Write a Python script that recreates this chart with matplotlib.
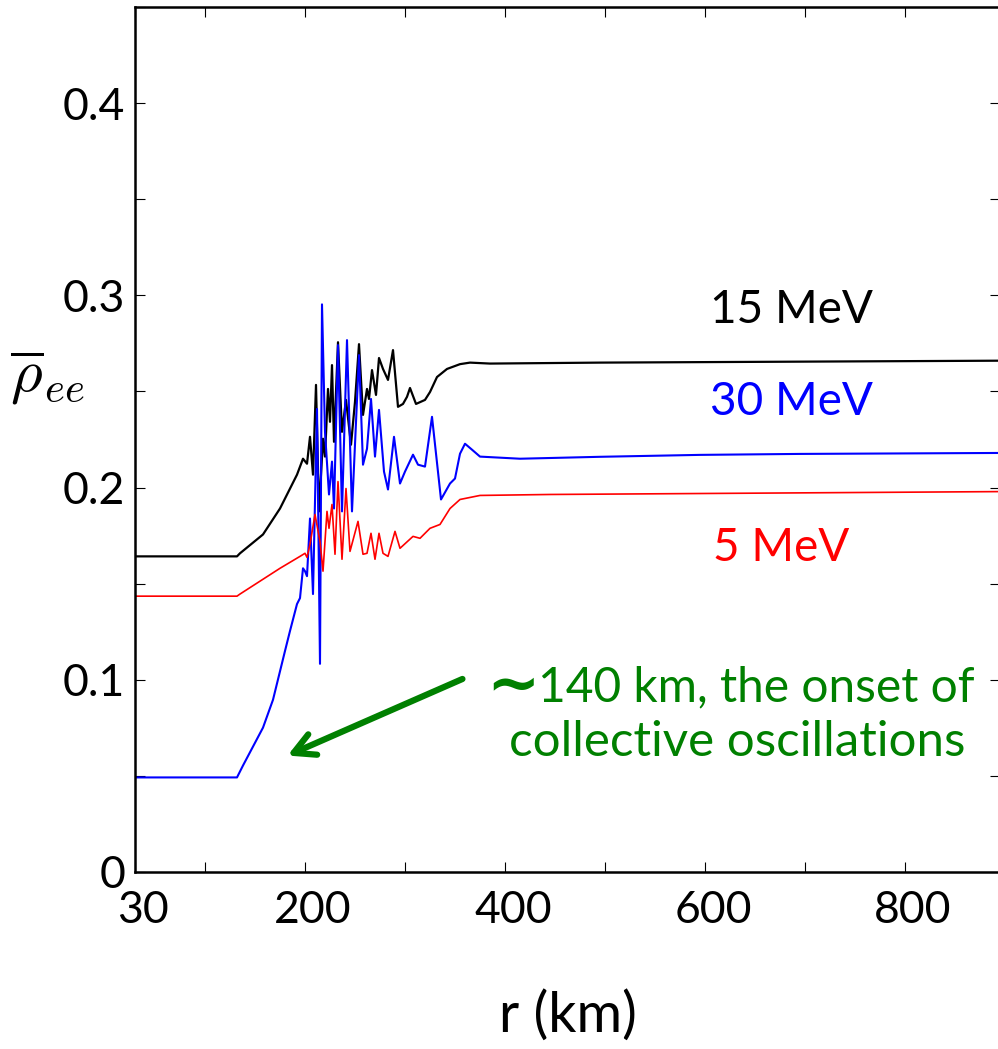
import numpy as np
import matplotlib
matplotlib.use('Agg')
import matplotlib.pyplot as plt
from matplotlib.ticker import MultipleLocator, FixedLocator
import matplotlib.transforms as mtransforms

plt.rcParams['font.family'] = ['Lato', 'DejaVu Sans']
plt.rcParams['mathtext.fontset'] = 'cm'

# 15 MeV (black)
r_15 = [30, 132, 135, 158, 175, 192, 198, 202, 205, 208, 211, 214, 218, 220, 223, 225,
        227, 229, 233, 237, 241, 246, 250, 254, 258, 262, 264, 267, 271, 274, 278, 283,
        288, 293, 298, 302, 305, 311, 320, 325, 332, 342, 355, 365, 385, 495, 695, 895]
rho_15 = [0.1642, 0.1642, 0.1658, 0.1756, 0.1891, 0.2067, 0.2150, 0.2124, 0.2264, 0.2067,
          0.2534, 0.1876, 0.2254, 0.2161, 0.2513, 0.2342, 0.2637, 0.2238, 0.2756, 0.2290,
          0.2456, 0.2223, 0.2446, 0.2746, 0.2378, 0.2513, 0.2461, 0.2611, 0.2482, 0.2674,
          0.2617, 0.2560, 0.2715, 0.2420, 0.2435, 0.2472, 0.2518, 0.2435, 0.2456, 0.2497,
          0.2575, 0.2617, 0.2642, 0.2650, 0.2645, 0.2650, 0.2655, 0.2660]

# 30 MeV (blue)
r_30 = [30, 132, 138, 158, 168, 180, 185, 192, 195, 198, 200, 202, 205, 208, 212, 215,
        217, 220, 224, 227, 229, 233, 237, 242, 247, 254, 258, 262, 266, 270, 274, 279,
        283, 289, 295, 300, 308, 313, 320, 327, 336, 345, 350, 355, 360, 367, 375, 415,
        495, 595, 695, 895]
rho_30 = [0.0492, 0.0492, 0.0554, 0.0751, 0.0896, 0.1150, 0.1254, 0.1394, 0.1425, 0.1580,
          0.1565, 0.1539, 0.1839, 0.1446, 0.2409, 0.1083, 0.2953, 0.2290, 0.1964, 0.2135,
          0.1891, 0.2741, 0.1876, 0.2767, 0.1876, 0.2689, 0.2119, 0.2202, 0.2461, 0.2161,
          0.2404, 0.2083, 0.1990, 0.2264, 0.2021, 0.2083, 0.2171, 0.2119, 0.2109, 0.2368,
          0.1938, 0.2021, 0.2047, 0.2176, 0.2228, 0.2197, 0.2161, 0.2150, 0.2160, 0.2170,
          0.2175, 0.2180]

# 5 MeV (red)
r_5 = [30, 132, 135, 155, 175, 195, 200, 202, 205, 210, 215, 218, 222, 224, 227, 230,
       233, 237, 241, 245, 253, 258, 262, 266, 270, 274, 278, 283, 290, 295, 308, 315,
       325, 335, 345, 355, 375, 445, 595, 895]
rho_5 = [0.1435, 0.1435, 0.1446, 0.1513, 0.1580, 0.1642, 0.1658, 0.1637, 0.1705, 0.1860,
         0.1720, 0.1565, 0.1876, 0.1788, 0.1912, 0.1653, 0.2031, 0.1627, 0.1995, 0.1668,
         0.1824, 0.1653, 0.1658, 0.1762, 0.1627, 0.1762, 0.1658, 0.1642, 0.1772, 0.1684,
         0.1746, 0.1736, 0.1788, 0.1808, 0.1891, 0.1938, 0.1959, 0.1964, 0.1969, 0.1979]

x_major = [30, 200, 400, 600, 800]
x_minor = [100, 300, 500, 700, 900]

fig = plt.figure(figsize=(9.98, 10.49), dpi=100)
ax = fig.add_axes([135 / 998, 177 / 1049, 865 / 998, 865 / 1049])

ax.plot(r_15, rho_15, color='black', lw=1.6)
ax.plot(r_30, rho_30, color='blue', lw=1.5)
ax.plot(r_5, rho_5, color='red', lw=1.2)

ax.set_xlim(30, 895)
ax.set_ylim(0, 0.45)
ax.xaxis.set_major_locator(FixedLocator(x_major))
ax.xaxis.set_minor_locator(FixedLocator(x_minor))
ax.set_xticklabels([str(v) for v in x_major])
ax.yaxis.set_major_locator(FixedLocator([0, 0.1, 0.2, 0.3, 0.4]))
ax.yaxis.set_minor_locator(MultipleLocator(0.05))
ax.set_yticklabels(['0', '0.1', '0.2', '0.3', '0.4'])

for s in ax.spines.values():
    s.set_linewidth(1.8)
ax.tick_params(which='both', direction='in', length=7.5, width=0.8,
               top=True, right=True, labelsize=32)
ax.tick_params(axis='y', pad=7)
ax.tick_params(axis='x', pad=13)

# shift x tick labels a little to the right, as in the original
offset = mtransforms.ScaledTranslation(8 / 100, 0, fig.dpi_scale_trans)
for lab in ax.get_xticklabels():
    lab.set_transform(lab.get_transform() + offset)

ax.set_xlabel('r (km)', fontsize=40, labelpad=42)
fig.text(10 / 998, 1 - 378 / 1049, r'$\overline{\rho}_{ee}$', fontsize=44,
         ha='left', va='center')

ax.text(0.665, 0.635, '15 MeV', transform=ax.transAxes, fontsize=33, color='black')
ax.text(0.665, 0.528, '30 MeV', transform=ax.transAxes, fontsize=33, color='blue')
ax.text(0.6685, 0.36, '5 MeV', transform=ax.transAxes, fontsize=33, color='red')

green = '#008000'
ax.text(381, 0.0872, '\u223c', fontsize=46, color=green, family='DejaVu Sans',
        fontweight='bold', ha='left', va='baseline')
ax.text(433, 0.0886, '140 km, the onset of', fontsize=34.5, color=green,
        ha='left', va='baseline')
ax.text(632, 0.0606, 'collective oscillations', fontsize=35.5, color=green,
        ha='center', va='baseline')
ax.annotate('', xy=(180, 0.060), xytext=(360, 0.101),
            arrowprops=dict(arrowstyle='->,head_length=0.75,head_width=0.4',
                            color=green, lw=4.5, mutation_scale=20))

fig.savefig('out.png', dpi=100)
